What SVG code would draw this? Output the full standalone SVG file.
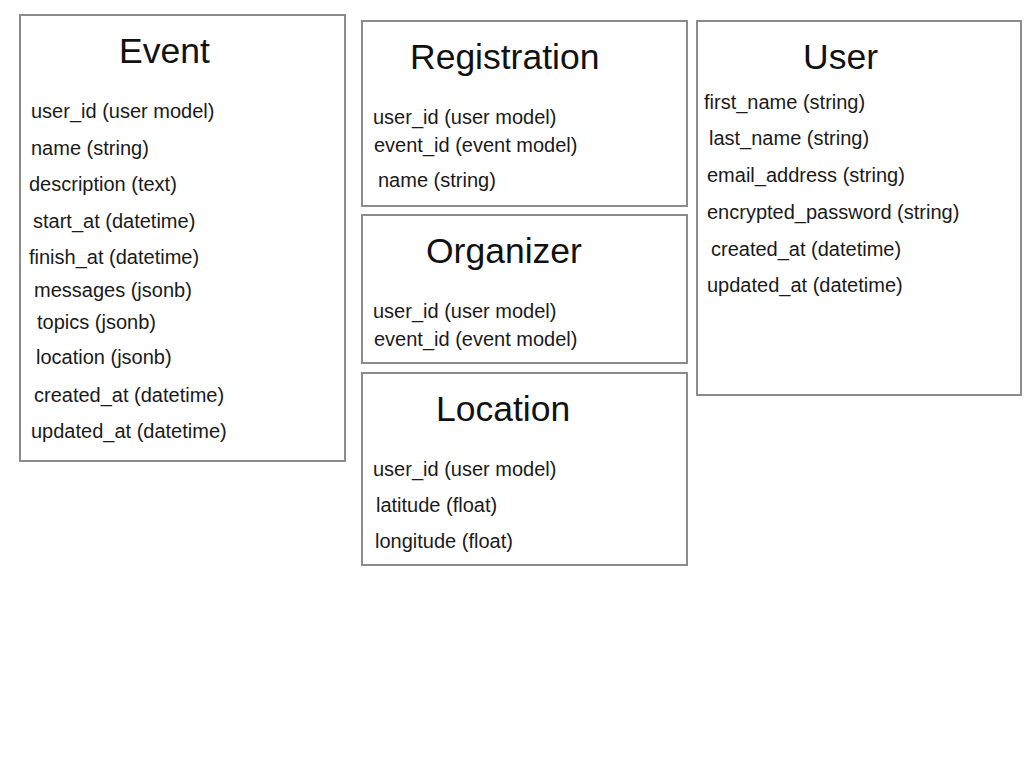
<svg xmlns="http://www.w3.org/2000/svg" width="1024" height="768" viewBox="0 0 1024 768">
<style>
.box{fill:#fff;stroke:#8c8c8c;stroke-width:2}
.title{font-family:"Liberation Sans",Arial,sans-serif;font-size:35.5px;fill:#111}
.attr{font-family:"Liberation Sans",Arial,sans-serif;font-size:20px;fill:#1a1a1a}
</style>
<rect width="1024" height="768" fill="#fff"/>
<g id="event">
<rect class="box" x="20" y="15" width="325" height="446"/>
<text class="title" x="119" y="63">Event</text>
<text class="attr" x="31" y="118">user_id (user model)</text>
<text class="attr" x="31" y="155">name (string)</text>
<text class="attr" x="29" y="191">description (text)</text>
<text class="attr" x="33" y="228">start_at (datetime)</text>
<text class="attr" x="29" y="264">finish_at (datetime)</text>
<text class="attr" x="34" y="297">messages (jsonb)</text>
<text class="attr" x="37" y="329">topics (jsonb)</text>
<text class="attr" x="36" y="364">location (jsonb)</text>
<text class="attr" x="34" y="402">created_at (datetime)</text>
<text class="attr" x="31" y="438">updated_at (datetime)</text>
</g>
<g id="registration">
<rect class="box" x="362" y="21" width="325" height="185"/>
<text class="title" x="410" y="69">Registration</text>
<text class="attr" x="373" y="124">user_id (user model)</text>
<text class="attr" x="374" y="152">event_id (event model)</text>
<text class="attr" x="378" y="187">name (string)</text>
</g>
<g id="organizer">
<rect class="box" x="362" y="215" width="325" height="148"/>
<text class="title" x="426" y="263">Organizer</text>
<text class="attr" x="373" y="318">user_id (user model)</text>
<text class="attr" x="374" y="346">event_id (event model)</text>
</g>
<g id="location">
<rect class="box" x="362" y="373" width="325" height="192"/>
<text class="title" x="436" y="421">Location</text>
<text class="attr" x="373" y="476">user_id (user model)</text>
<text class="attr" x="376" y="512">latitude (float)</text>
<text class="attr" x="375" y="548">longitude (float)</text>
</g>
<g id="user">
<rect class="box" x="697" y="21" width="324" height="374"/>
<text class="title" x="803" y="69">User</text>
<text class="attr" x="704" y="109">first_name (string)</text>
<text class="attr" x="709" y="145">last_name (string)</text>
<text class="attr" x="707" y="182">email_address (string)</text>
<text class="attr" x="707" y="219">encrypted_password (string)</text>
<text class="attr" x="711" y="256">created_at (datetime)</text>
<text class="attr" x="707" y="292">updated_at (datetime)</text>
</g>
<g id="connectors"/>
</svg>
